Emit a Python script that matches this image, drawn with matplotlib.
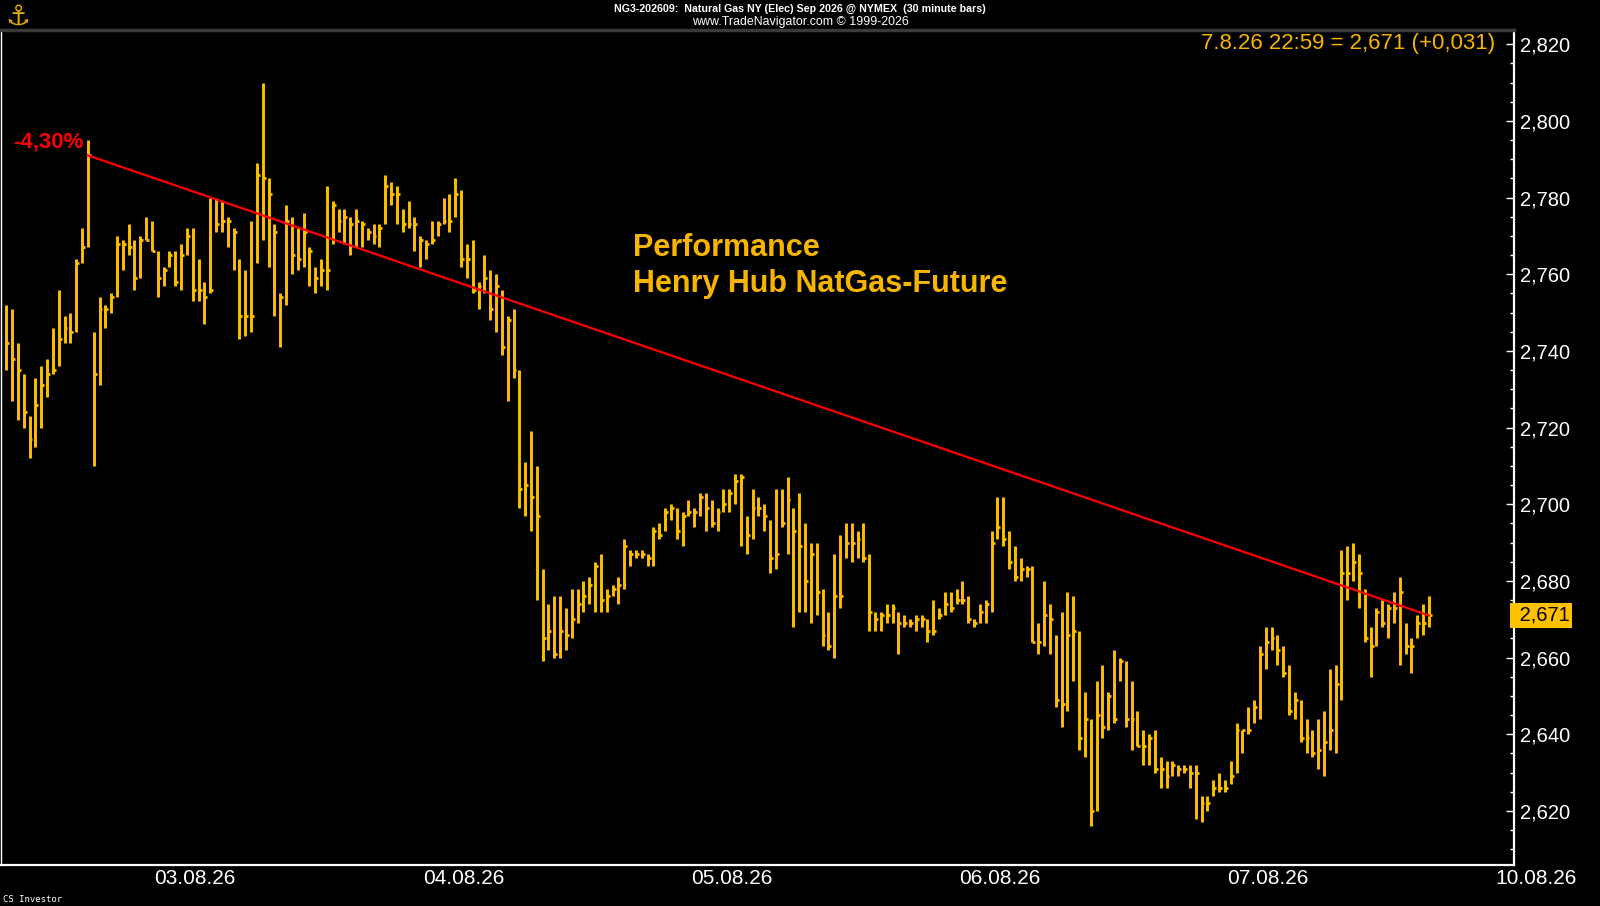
import matplotlib
matplotlib.use("Agg")
import matplotlib.pyplot as plt
import matplotlib.transforms as mtransforms
from matplotlib.ticker import MultipleLocator, FuncFormatter
import numpy as np

# 30 minute bars, NG Sep 2026, 03.08.26 - 07.08.26
highs = [
    2.752, 2.751, 2.742, 2.734, 2.723, 2.733, 2.736, 2.738, 2.746, 2.756,
    2.749, 2.750, 2.764, 2.772, 2.795, 2.745, 2.754, 2.752, 2.755, 2.770,
    2.769, 2.773, 2.769, 2.770, 2.775, 2.774, 2.766, 2.762, 2.766, 2.766,
    2.768, 2.772, 2.772, 2.764, 2.758, 2.780, 2.780, 2.779, 2.775, 2.772,
    2.764, 2.761, 2.774, 2.789, 2.810, 2.785, 2.773, 2.755, 2.778, 2.775,
    2.772, 2.776, 2.767, 2.762, 2.764, 2.783, 2.779, 2.777, 2.777, 2.775,
    2.777, 2.774, 2.772, 2.773, 2.773, 2.786, 2.784, 2.783, 2.777, 2.779,
    2.775, 2.770, 2.769, 2.774, 2.774, 2.780, 2.781, 2.785, 2.782, 2.768,
    2.769, 2.758, 2.765, 2.761, 2.760, 2.756, 2.749, 2.751, 2.735, 2.711,
    2.719, 2.710, 2.683, 2.674, 2.676, 2.676, 2.673, 2.678, 2.678, 2.680,
    2.681, 2.685, 2.687, 2.678, 2.679, 2.681, 2.691, 2.688, 2.688, 2.688,
    2.687, 2.694, 2.695, 2.699, 2.700, 2.699, 2.698, 2.701, 2.699, 2.703,
    2.703, 2.701, 2.699, 2.704, 2.704, 2.708, 2.708, 2.697, 2.704, 2.702,
    2.700, 2.696, 2.704, 2.704, 2.707, 2.699, 2.703, 2.695, 2.690, 2.690,
    2.678, 2.672, 2.687, 2.692, 2.695, 2.695, 2.693, 2.695, 2.687, 2.672,
    2.672, 2.674, 2.674, 2.672, 2.671, 2.670, 2.671, 2.671, 2.670, 2.675,
    2.673, 2.677, 2.677, 2.678, 2.680, 2.676, 2.670, 2.674, 2.675, 2.693,
    2.702, 2.702, 2.693, 2.689, 2.686, 2.684, 2.684, 2.669, 2.680, 2.674,
    2.666, 2.672, 2.677, 2.676, 2.667, 2.651, 2.644, 2.654, 2.658, 2.651,
    2.662, 2.660, 2.659, 2.654, 2.646, 2.641, 2.640, 2.641, 2.634, 2.633,
    2.633, 2.632, 2.632, 2.632, 2.632, 2.624, 2.624, 2.628, 2.630, 2.628,
    2.633, 2.643, 2.641, 2.647, 2.649, 2.663, 2.668, 2.668, 2.666, 2.663,
    2.658, 2.651, 2.649, 2.644, 2.641, 2.644, 2.646, 2.657, 2.658, 2.688,
    2.689, 2.690, 2.687, 2.678, 2.668, 2.673, 2.675, 2.674, 2.677, 2.681,
    2.669, 2.665, 2.671, 2.674, 2.676,
]
lows = [
    2.735, 2.727, 2.722, 2.720, 2.712, 2.715, 2.720, 2.728, 2.734, 2.736,
    2.742, 2.742, 2.745, 2.763, 2.767, 2.710, 2.731, 2.746, 2.750, 2.754,
    2.761, 2.765, 2.756, 2.759, 2.769, 2.766, 2.754, 2.757, 2.762, 2.757,
    2.756, 2.765, 2.753, 2.753, 2.747, 2.755, 2.771, 2.771, 2.767, 2.761,
    2.743, 2.744, 2.745, 2.763, 2.769, 2.762, 2.749, 2.741, 2.752, 2.760,
    2.761, 2.762, 2.757, 2.755, 2.757, 2.756, 2.768, 2.771, 2.768, 2.765,
    2.767, 2.767, 2.769, 2.768, 2.767, 2.773, 2.778, 2.773, 2.771, 2.772,
    2.766, 2.762, 2.764, 2.768, 2.770, 2.773, 2.771, 2.775, 2.762, 2.759,
    2.755, 2.751, 2.755, 2.748, 2.745, 2.739, 2.727, 2.733, 2.699, 2.697,
    2.693, 2.675, 2.659, 2.662, 2.660, 2.660, 2.662, 2.665, 2.669, 2.672,
    2.674, 2.672, 2.672, 2.672, 2.676, 2.674, 2.678, 2.684, 2.686, 2.686,
    2.684, 2.684, 2.691, 2.693, 2.696, 2.691, 2.689, 2.697, 2.694, 2.697,
    2.693, 2.694, 2.693, 2.698, 2.698, 2.700, 2.689, 2.687, 2.691, 2.697,
    2.693, 2.682, 2.683, 2.694, 2.687, 2.668, 2.672, 2.672, 2.669, 2.671,
    2.663, 2.662, 2.660, 2.673, 2.686, 2.685, 2.686, 2.685, 2.667, 2.667,
    2.667, 2.669, 2.669, 2.661, 2.668, 2.668, 2.667, 2.668, 2.664, 2.666,
    2.670, 2.671, 2.672, 2.674, 2.674, 2.669, 2.668, 2.669, 2.669, 2.672,
    2.691, 2.689, 2.683, 2.680, 2.680, 2.681, 2.664, 2.661, 2.663, 2.661,
    2.647, 2.642, 2.646, 2.654, 2.636, 2.634, 2.616, 2.620, 2.639, 2.641,
    2.643, 2.654, 2.642, 2.636, 2.637, 2.632, 2.632, 2.630, 2.626, 2.626,
    2.629, 2.629, 2.630, 2.626, 2.618, 2.617, 2.620, 2.624, 2.625, 2.625,
    2.627, 2.630, 2.635, 2.640, 2.643, 2.644, 2.657, 2.662, 2.658, 2.655,
    2.645, 2.644, 2.638, 2.635, 2.634, 2.631, 2.629, 2.636, 2.635, 2.649,
    2.675, 2.680, 2.673, 2.664, 2.655, 2.663, 2.668, 2.665, 2.669, 2.658,
    2.661, 2.656, 2.665, 2.666, 2.668,
]
closes = [
    2.742, 2.738, 2.735, 2.724, 2.717, 2.726, 2.731, 2.734, 2.735, 2.743,
    2.746, 2.745, 2.763, 2.767, 2.791, 2.734, 2.751, 2.751, 2.754, 2.768,
    2.768, 2.767, 2.759, 2.769, 2.769, 2.766, 2.759, 2.761, 2.765, 2.758,
    2.765, 2.770, 2.756, 2.756, 2.754, 2.756, 2.773, 2.774, 2.774, 2.771,
    2.749, 2.749, 2.749, 2.786, 2.785, 2.781, 2.771, 2.754, 2.774, 2.765,
    2.764, 2.771, 2.766, 2.759, 2.761, 2.761, 2.778, 2.774, 2.775, 2.773,
    2.774, 2.773, 2.771, 2.770, 2.772, 2.783, 2.781, 2.781, 2.773, 2.773,
    2.773, 2.769, 2.768, 2.769, 2.773, 2.774, 2.774, 2.781, 2.764, 2.764,
    2.756, 2.757, 2.759, 2.751, 2.757, 2.741, 2.748, 2.735, 2.704, 2.705,
    2.702, 2.697, 2.665, 2.667, 2.661, 2.667, 2.666, 2.670, 2.674, 2.676,
    2.679, 2.684, 2.675, 2.676, 2.678, 2.679, 2.689, 2.687, 2.687, 2.687,
    2.686, 2.693, 2.692, 2.698, 2.699, 2.693, 2.697, 2.698, 2.698, 2.702,
    2.699, 2.695, 2.698, 2.700, 2.703, 2.706, 2.707, 2.692, 2.699, 2.699,
    2.697, 2.686, 2.687, 2.695, 2.701, 2.693, 2.689, 2.680, 2.687, 2.677,
    2.666, 2.663, 2.676, 2.676, 2.690, 2.690, 2.691, 2.686, 2.672, 2.670,
    2.671, 2.671, 2.673, 2.669, 2.669, 2.669, 2.670, 2.670, 2.667, 2.667,
    2.671, 2.674, 2.673, 2.675, 2.675, 2.670, 2.669, 2.672, 2.674, 2.690,
    2.694, 2.691, 2.685, 2.681, 2.683, 2.683, 2.664, 2.664, 2.671, 2.670,
    2.649, 2.648, 2.666, 2.667, 2.639, 2.644, 2.620, 2.645, 2.642, 2.650,
    2.644, 2.659, 2.644, 2.644, 2.637, 2.637, 2.639, 2.631, 2.631, 2.629,
    2.632, 2.631, 2.631, 2.630, 2.630, 2.622, 2.622, 2.626, 2.626, 2.626,
    2.629, 2.641, 2.641, 2.641, 2.647, 2.661, 2.664, 2.665, 2.662, 2.656,
    2.646, 2.649, 2.639, 2.639, 2.635, 2.636, 2.638, 2.641, 2.653, 2.682,
    2.682, 2.685, 2.682, 2.665, 2.663, 2.672, 2.669, 2.673, 2.673, 2.677,
    2.663, 2.663, 2.669, 2.669, 2.671,
]

# x axis: bar index; each session day has 46 half-hour bars
date_labels = ["03.08.26", "04.08.26", "05.08.26", "06.08.26", "07.08.26", "10.08.26"]
first_label_bar = 32.4
bars_per_day = 46
trend_start = 14          # bar where the red performance line starts
last_stamp = "7.8.26 22:59"
last_change = 0.031

title_1 = "NG3-202609:  Natural Gas NY (Elec) Sep 2026 @ NYMEX  (30 minute bars)"
title_2 = "www.TradeNavigator.com \u00a9 1999-2026"

BAR = "#FFC000"
TXT = "#F7B500"
W, H = 1600, 906


def comma(v, nd=3):
    return f"{v:.{nd}f}".replace(".", ",")


fig = plt.figure(figsize=(W / 100, H / 100), dpi=100, facecolor="black")
ax = fig.add_axes([0.5 / W, (H - 865) / H, 1513 / W, (865 - 30) / H])
ax.set_facecolor("black")

x = np.arange(len(closes))
ax.vlines(x, lows, highs, color=BAR, linewidth=2.1)
ax.hlines(closes, x, x + 0.5, color=BAR, linewidth=2.0)

# performance line
last = len(closes) - 1
ax.plot([trend_start, last], [closes[trend_start], closes[last]], color="#FF0000", linewidth=1.6)
perf = (closes[last] / closes[trend_start] - 1) * 100
ax.annotate(comma(perf, 2) + "%", xy=(trend_start, closes[trend_start]),
            xytext=(-3, 2), textcoords="offset points", ha="right", va="bottom",
            color="#FF0000", fontsize=16, fontweight="bold", family="Liberation Sans")

ax.set_xlim(-0.98, 258.5)
ax.set_ylim(2.6059, 2.8237)

# axes frame
for side in ["left", "right", "bottom"]:
    ax.spines[side].set_color("white")
ax.spines["left"].set_linewidth(1)
ax.spines["right"].set_linewidth(1.6)
ax.spines["bottom"].set_linewidth(1.6)
ax.spines["top"].set_color("#3a3a3a")
ax.spines["top"].set_linewidth(2.5)

ax.yaxis.tick_right()
ax.yaxis.set_major_locator(MultipleLocator(0.020))
ax.yaxis.set_minor_locator(MultipleLocator(0.005))
ax.yaxis.set_major_formatter(FuncFormatter(lambda v, p: comma(v)))
ax.tick_params(axis="y", which="major", direction="in", length=6, width=1,
               color="white", labelcolor="white", labelsize=14.5, pad=5)
ax.tick_params(axis="y", which="minor", direction="in", length=3, width=1, color="white")
for lab in ax.get_yticklabels():
    lab.set_family("Liberation Sans")
ax.set_xticks([])

# date labels under the axis
trans = mtransforms.blended_transform_factory(ax.transData, fig.transFigure)
for k, lab in enumerate(date_labels):
    ax.text(first_label_bar + bars_per_day * k, 1 - 879 / H, lab, transform=trans,
            ha="center", va="center", color="white", fontsize=15,
            family="Liberation Sans", clip_on=False)

# last price box on the axis
ax.text(1.0, closes[last], " " + comma(closes[last]), transform=ax.get_yaxis_transform(),
        ha="left", va="center", color="black", fontsize=14.5, family="Liberation Sans",
        bbox=dict(boxstyle="square,pad=0.15", facecolor=BAR, edgecolor="none"),
        clip_on=False)

# texts
fig.text(1495 / W, 1 - 43 / H,
         f"{last_stamp} = {comma(closes[last])} (+{comma(last_change)})",
         ha="right", va="center", color=TXT, fontsize=16, family="Liberation Sans")
fig.text(633 / W, 1 - 248 / H, "Performance", ha="left", va="center",
         color=TXT, fontsize=22, fontweight="bold", family="Liberation Sans")
fig.text(633 / W, 1 - 284 / H, "Henry Hub NatGas-Future", ha="left", va="center",
         color=TXT, fontsize=22, fontweight="bold", family="Liberation Sans")

fig.text(800 / W, 1 - 8.5 / H, title_1, ha="center", va="center", color="white",
         fontsize=7.7, fontweight="bold", family=["Liberation Sans Narrow", "Liberation Sans"])
fig.text(800 / W, 1 - 22.5 / H, title_2, ha="center", va="center", color="white",
         fontsize=8.9, family=["Liberation Sans Narrow", "Liberation Sans"])
fig.text(18 / W, 1 - 17 / H, "\u2693", ha="center", va="center", color="#E0A800",
         fontsize=20, family="DejaVu Sans")
fig.text(3 / W, 1 - 899 / H, "CS Investor", ha="left", va="center", color="white",
         fontsize=6.5, family="DejaVu Sans Mono")

fig.savefig("out.png", dpi=100, facecolor="black")
